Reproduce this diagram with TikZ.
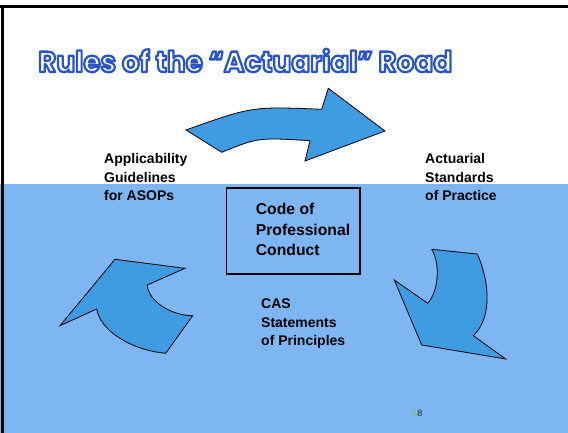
\documentclass[tikz,border=0pt]{standalone}
\usepackage{fontspec}
\setmainfont{Liberation Sans}
\newfontfamily\titlefont{Poppins}
\definecolor{bgblue}{HTML}{7EB6F4}
\definecolor{arrowblue}{HTML}{3F9CE2}
\definecolor{titleblue}{HTML}{2A55C8}
\definecolor{pagenavy}{HTML}{1A2A50}
\definecolor{markgreen}{HTML}{8CC63F}
\newcommand\outlinedtext[1]{\special{pdf:literal direct 2 Tr 2.3 w 1 j 0.165 0.333 0.784 RG}#1\special{pdf:literal direct 0 Tr}}
\tikzset{
  cyclearrow/.style={fill=arrowblue, draw=black, line width=0.8pt, line join=miter},
  label14/.style={anchor=north west, inner sep=0pt, align=left,
    font=\fontsize{14}{18.5}\selectfont\bfseries},
  label16/.style={anchor=north west, inner sep=0pt, align=left,
    font=\fontsize{15.7}{20.5}\selectfont\bfseries},
  codebox/.style={draw=black, line width=1.5pt, inner sep=0pt},
}
\begin{document}
\begin{tikzpicture}[x=1pt, y=-1pt]
\useasboundingbox (0,0) rectangle (568,433);
% backgrounds
\fill[white] (0,0) rectangle (568,184);
\fill[bgblue] (0,184) rectangle (568,433);
% frame
\draw[black, line width=3pt] (0,7) -- (568,7);
\draw[black, line width=3pt] (2.5,7) -- (2.5,433);
% title
\node[anchor=base west, inner sep=0pt, text=white] (title) at (38,72)
  {\resizebox{414pt}{\height}{\titlefont\bfseries\fontsize{29}{30}\selectfont
   \outlinedtext{Rules of the “Actuarial” Road}}};
% top arrow
\draw[cyclearrow] (186,130) .. controls (252,106.4) .. (321.7,109.3)
  -- (328.3,88.3) -- (385,131) -- (305,161) -- (310,140.7)
  .. controls (258.2,137.5) .. (221.7,152.3) -- cycle;
% left arrow
\draw[cyclearrow] (115,259.3) -- (185,268.3) -- (147.3,285)
  .. controls (148.5,302) and (172,315.5) .. (192.7,315.7)
  -- (165.7,353.3)
  .. controls (130,350) and (100,330) .. (96.7,309)
  -- (60,325.7) -- cycle;
% right arrow
\draw[cyclearrow] (431.7,249.3) -- (477.3,254)
  .. controls (487,275) and (495,315) .. (473.3,335.7)
  -- (505.7,359) -- (421.7,345) -- (394.3,280) -- (427.7,303.3)
  .. controls (438,292) and (441,265) .. (431.7,249.3);
% labels
\node[label14] (asop) at (104,153.5) {Applicability\\Guidelines\\for ASOPs};
\node[label14] (asp) at (425,153.5) {Actuarial\\Standards\\of Practice};
\node[label14] (cas) at (261,299) {CAS\\Statements\\of Principles};
\node[codebox, minimum width=133.6pt, minimum height=86pt, anchor=north west] (box) at (225.7,187.3) {};
\node[label16] (code) at (255.7,203) {Code of\\Professional\\Conduct};
% page number
\node[draw=markgreen, line width=0.5pt, minimum size=3pt, inner sep=0pt] (mark) at (415.5,413) {};
\node[anchor=west, inner sep=0pt, text=pagenavy, font=\fontsize{9}{10}\selectfont] (page) at (mark.east) {8};
\end{tikzpicture}
\end{document}
